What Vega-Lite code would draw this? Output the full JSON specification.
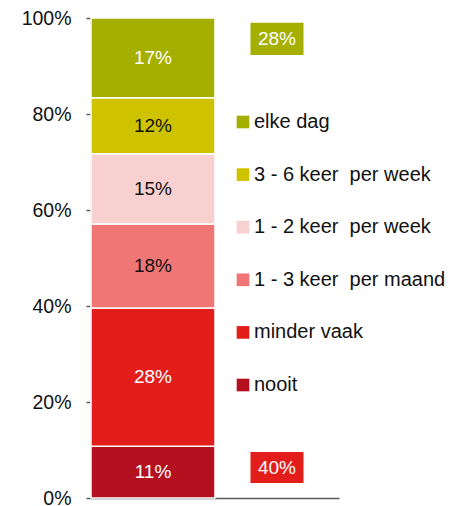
{
  "$schema": "https://vega.github.io/schema/vega-lite/v6.json",
  "width": 248,
  "height": 480,
  "autosize": {"type": "none"},
  "padding": {"left": 91, "top": 18, "right": 120, "bottom": 8},
  "background": "white",
  "config": {
    "view": {"stroke": null},
    "font": "Arial, Liberation Sans",
    "axis": {"grid": false}
  },
  "datasets": {
    "freq": [
      {"col": "bar", "cat": "nooit", "rank": 1, "value": 0.108, "label": "11%"},
      {"col": "bar", "cat": "minder vaak", "rank": 2, "value": 0.288, "label": "28%"},
      {"col": "bar", "cat": "1 - 3 keer\u00a0 per maand", "rank": 3, "value": 0.175, "label": "18%"},
      {"col": "bar", "cat": "1 - 2 keer\u00a0 per week", "rank": 4, "value": 0.146, "label": "15%"},
      {"col": "bar", "cat": "3 - 6 keer\u00a0 per week", "rank": 5, "value": 0.117, "label": "12%"},
      {"col": "bar", "cat": "elke dag", "rank": 6, "value": 0.166, "label": "17%"}
    ],
    "notes": [
      {"col": "note", "cat": "elke dag", "label": "28%", "lo": 0.923, "hi": 0.99},
      {"col": "note", "cat": "minder vaak", "label": "40%", "lo": 0.031, "hi": 0.096}
    ]
  },
  "encoding": {
    "x": {
      "field": "col",
      "type": "nominal",
      "scale": {"domain": ["bar", "note"], "paddingInner": 0, "paddingOuter": 0},
      "axis": {"labels": false, "ticks": false, "title": null, "domainColor": "#595959", "domainWidth": 1.5}
    }
  },
  "layer": [
    {
      "data": {"name": "freq"},
      "mark": {"type": "bar", "stroke": "white", "strokeWidth": 1.5},
      "encoding": {
        "y": {
          "field": "value",
          "type": "quantitative",
          "stack": "zero",
          "scale": {"domain": [0, 1]},
          "axis": {
            "values": [0, 0.2, 0.4, 0.6, 0.8, 1],
            "format": ".0%",
            "title": null,
            "domainColor": "#595959",
            "domainWidth": 1.5,
            "tickColor": "#595959",
            "tickWidth": 1.5,
            "tickSize": 5,
            "labelPadding": 15,
            "labelFontSize": 19.5,
            "labelColor": "#111111"
          }
        },
        "order": {"field": "rank", "type": "quantitative"},
        "color": {
          "field": "cat",
          "type": "nominal",
          "scale": {
            "domain": ["elke dag", "3 - 6 keer\u00a0 per week", "1 - 2 keer\u00a0 per week", "1 - 3 keer\u00a0 per maand", "minder vaak", "nooit"],
            "range": ["#A5AF00", "#CFC300", "#F8D0D0", "#F07575", "#E31E1A", "#B51020"]
          },
          "legend": {
            "orient": "none",
            "legendX": 142,
            "legendY": 94,
            "title": null,
            "symbolType": "square",
            "symbolSize": 160,
            "symbolStrokeWidth": 0,
            "labelFontSize": 20,
            "labelColor": "#111111",
            "labelOffset": 1,
            "rowPadding": 32.6,
            "labelLimit": 300
          }
        }
      }
    },
    {
      "data": {"name": "freq"},
      "transform": [
        {"stack": "value", "groupby": ["col"], "sort": [{"field": "rank", "order": "ascending"}], "as": ["y0", "y1"]},
        {"calculate": "(datum.y0 + datum.y1) / 2", "as": "mid"}
      ],
      "mark": {"type": "text", "fontSize": 19, "baseline": "middle", "align": "center"},
      "encoding": {
        "y": {"field": "mid", "type": "quantitative"},
        "text": {"field": "label"},
        "color": {
          "condition": {"test": "datum.cat == 'elke dag' || datum.cat == 'minder vaak' || datum.cat == 'nooit'", "value": "white"},
          "value": "#111111"
        }
      }
    },
    {
      "data": {"name": "notes"},
      "mark": {"type": "bar", "width": 53},
      "encoding": {
        "y": {"field": "lo", "type": "quantitative"},
        "y2": {"field": "hi"},
        "color": {"field": "cat", "type": "nominal", "legend": null}
      }
    },
    {
      "data": {"name": "notes"},
      "transform": [{"calculate": "(datum.lo + datum.hi) / 2", "as": "mid"}],
      "mark": {"type": "text", "fontSize": 19, "baseline": "middle", "align": "center", "color": "white"},
      "encoding": {
        "y": {"field": "mid", "type": "quantitative"},
        "text": {"field": "label"}
      }
    }
  ]
}
